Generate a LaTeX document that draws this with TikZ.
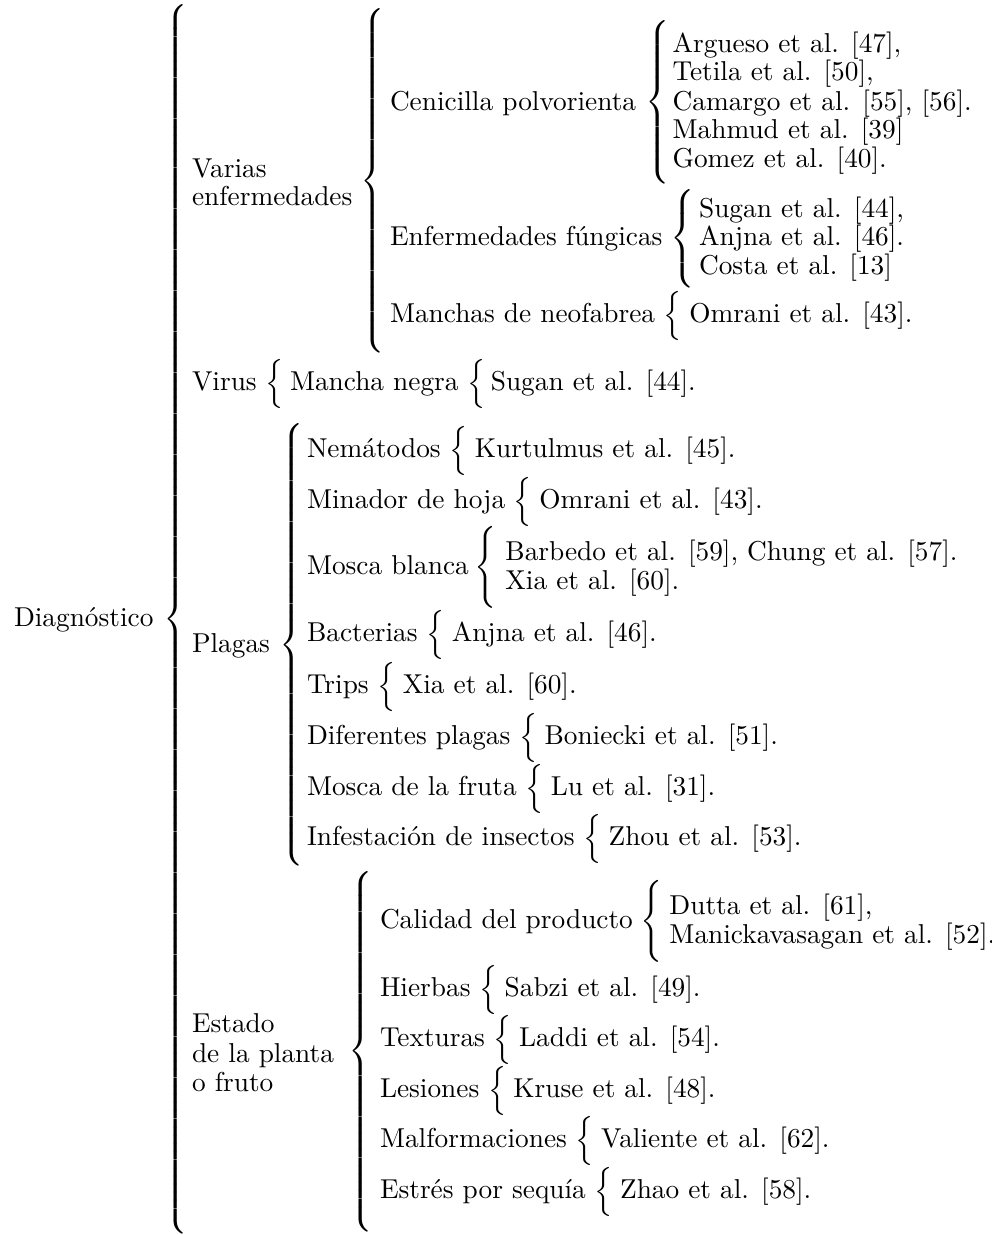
\documentclass[tikz,border=0pt]{standalone}
\usepackage{fontspec}
\delimiterfactor=1000
\delimitershortfall=0pt
\newdimen\pxu
\pxu=0.366pt
\newcommand\mybrace[1]{$\left\{\vcenter{\hrule height #1\pxu depth 0pt width 0pt}\right.$}
\tikzset{
  lbl/.style={anchor=base west, inner sep=0pt, outer sep=0pt},
  bra/.style={anchor=west, inner sep=0pt, outer sep=0pt},
  braB/.style={bra, xshift=3.2pt},
  leafA/.style={lbl, xshift=13.4pt},
  leafB/.style={lbl, xshift=12.5pt},
}
\begin{document}
\begin{tikzpicture}[x=0.366pt, y=-0.366pt]
\useasboundingbox (0,0) rectangle (992,1235);
% root
\node[lbl] (diag) at (14,626) {Diagnóstico};
\node[bra, xshift=3.6pt] (bD) at (diag.east |- 0,619) {\mybrace{1218}};
% Varias enfermedades
\node[lbl] (var1) at (192,177) {Varias};
\node[lbl] (var2) at (192,205) {enfermedades};
\node[bra, xshift=3pt] (bV) at (var2.east |- 0,181) {\mybrace{328}};
\node[lbl] (cen) at (390,110) {Cenicilla polvorienta};
\node[bra, xshift=3.6pt] (bC) at (cen.east |- 0,102.5) {\mybrace{155}};
\node[leafA] (c1) at (cen.east |- 0,52) {Argueso et al. [47],};
\node[leafA] (c2) at (cen.east |- 0,80) {Tetila et al. [50],};
\node[leafA] (c3) at (cen.east |- 0,110) {Camargo et al. [55], [56].};
\node[leafA] (c4) at (cen.east |- 0,138) {Mahmud et al. [39]};
\node[leafA] (c5) at (cen.east |- 0,167) {Gomez et al. [40].};
\node[lbl] (fun) at (390,245) {Enfermedades fúngicas};
\node[bra, xshift=3pt] (bF) at (fun.east |- 0,238.5) {\mybrace{92}};
\node[leafA] (f1) at (fun.east |- 0,217) {Sugan et al. [44],};
\node[leafA] (f2) at (fun.east |- 0,245) {Anjna et al. [46].};
\node[leafA] (f3) at (fun.east |- 0,274) {Costa et al. [13]};
\node[lbl] (neo) at (390,322) {Manchas de neofabrea};
\node[braB] (bN) at (neo.east |- 0,316) {\mybrace{45}};
\node[leafB] (n1) at (neo.east |- 0,322) {Omrani et al. [43].};
% Virus
\node[lbl] (vir) at (192,390) {Virus};
\node[braB] (bVi) at (vir.east |- 0,384) {\mybrace{45}};
\node[lbl] (mne) at (290,390) {Mancha negra};
\node[braB] (bM) at (mne.east |- 0,384) {\mybrace{45}};
\node[lbl, xshift=11.8pt] (m1) at (mne.east |- 0,390) {Sugan et al. [44].};
% Plagas
\node[lbl] (pla) at (192,652) {Plagas};
\node[bra, xshift=3.6pt] (bP) at (pla.east |- 0,645) {\mybrace{436}};
\node[lbl] (p1) at (307,457) {Nemátodos};
\node[braB] (bp1) at (p1.east |- 0,451) {\mybrace{45}};
\node[leafB] (q1) at (p1.east |- 0,457) {Kurtulmus et al. [45].};
\node[lbl] (p2) at (307,508) {Minador de hoja};
\node[braB] (bp2) at (p2.east |- 0,502) {\mybrace{45}};
\node[leafB] (q2) at (p2.east |- 0,508) {Omrani et al. [43].};
\node[lbl] (p3) at (307,574) {Mosca blanca};
\node[bra, xshift=2.2pt] (bp3) at (p3.east |- 0,567.5) {\mybrace{72}};
\node[leafA] (q3a) at (p3.east |- 0,560) {Barbedo et al. [59], Chung et al. [57].};
\node[leafA] (q3b) at (p3.east |- 0,589) {Xia et al. [60].};
\node[lbl] (p4) at (307,641) {Bacterias};
\node[braB] (bp4) at (p4.east |- 0,635) {\mybrace{45}};
\node[leafB] (q4) at (p4.east |- 0,641) {Anjna et al. [46].};
\node[lbl] (p5) at (307,693) {Trips};
\node[braB] (bp5) at (p5.east |- 0,687) {\mybrace{45}};
\node[leafB] (q5) at (p5.east |- 0,693) {Xia et al. [60].};
\node[lbl] (p6) at (307,744) {Diferentes plagas};
\node[braB] (bp6) at (p6.east |- 0,738) {\mybrace{45}};
\node[leafB] (q6) at (p6.east |- 0,744) {Boniecki et al. [51].};
\node[lbl] (p7) at (307,795) {Mosca de la fruta};
\node[braB] (bp7) at (p7.east |- 0,789) {\mybrace{45}};
\node[leafB] (q7) at (p7.east |- 0,795) {Lu et al. [31].};
\node[lbl] (p8) at (307,845) {Infestación de insectos};
\node[braB] (bp8) at (p8.east |- 0,839) {\mybrace{45}};
\node[leafB] (q8) at (p8.east |- 0,845) {Zhou et al. [53].};
% Estado de la planta o fruto
\node[lbl] (est1) at (192,1032) {Estado};
\node[lbl] (est2) at (192,1062) {de la planta};
\node[lbl] (est3) at (192,1091) {o fruto};
\node[bra, xshift=5.2pt] (bE) at (est2.east |- 0,1051.5) {\mybrace{350}};
\node[lbl] (e1) at (380,928) {Calidad del producto};
\node[bra, xshift=2.8pt] (be1) at (e1.east |- 0,921.5) {\mybrace{75}};
\node[leafA] (g1a) at (e1.east |- 0,914) {Dutta et al. [61],};
\node[leafA] (g1b) at (e1.east |- 0,943) {Manickavasagan et al. [52].};
\node[lbl] (e2) at (380,996) {Hierbas};
\node[braB] (be2) at (e2.east |- 0,990) {\mybrace{45}};
\node[leafB] (g2) at (e2.east |- 0,996) {Sabzi et al. [49].};
\node[lbl] (e3) at (380,1046) {Texturas};
\node[braB] (be3) at (e3.east |- 0,1040) {\mybrace{45}};
\node[leafB] (g3) at (e3.east |- 0,1046) {Laddi et al. [54].};
\node[lbl] (e4) at (380,1097) {Lesiones};
\node[braB] (be4) at (e4.east |- 0,1091) {\mybrace{45}};
\node[leafB] (g4) at (e4.east |- 0,1097) {Kruse et al. [48].};
\node[lbl] (e5) at (380,1147) {Malformaciones};
\node[braB] (be5) at (e5.east |- 0,1141) {\mybrace{45}};
\node[leafB] (g5) at (e5.east |- 0,1147) {Valiente et al. [62].};
\node[lbl] (e6) at (380,1198) {Estrés por sequía};
\node[braB] (be6) at (e6.east |- 0,1192) {\mybrace{45}};
\node[leafB] (g6) at (e6.east |- 0,1198) {Zhao et al. [58].};
\end{tikzpicture}
\end{document}
